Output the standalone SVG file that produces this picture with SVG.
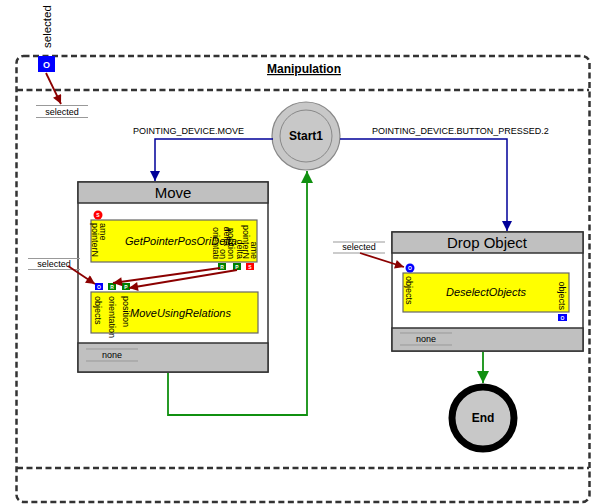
<svg xmlns="http://www.w3.org/2000/svg" width="592" height="504" viewBox="0 0 592 504">
  <defs>
    <style>
      text { font-family: "Liberation Sans", Arial, sans-serif; fill: #000; }
      .dash { fill: none; stroke: #333; stroke-width: 2.5; stroke-dasharray: 6 3.5; }
      .box { fill: #fff; stroke: #333; stroke-width: 1.5; }
      .band { fill: #c0c0c0; stroke: #333; stroke-width: 1.5; }
      .act { fill: #ffff00; stroke: #666; stroke-width: 1.2; }
      .rule { stroke: #999; stroke-width: 1; }
      .small { font-size: 9px; }
      .title { font-size: 15px; }
      .ital { font-size: 11px; font-style: italic; }
      .rot { font-size: 9px; }
      .pt { font-size: 5px; font-weight: bold; fill: #fff; text-anchor: middle; }
      .ptbig { font-size: 9px; font-weight: bold; fill: #fff; text-anchor: middle; }
      .blue { fill: none; stroke: #000099; stroke-width: 1.5; }
      .green { fill: none; stroke: #109010; stroke-width: 1.8; }
      .red { fill: none; stroke: #8b0000; stroke-width: 1.8; }
    </style>
    <marker id="ahBlue" viewBox="0 0 10 10" refX="10" refY="5" markerWidth="13" markerHeight="10" markerUnits="userSpaceOnUse" orient="auto">
      <path d="M0,0 L10,5 L0,10 z" fill="#000099"/>
    </marker>
    <marker id="ahGreen" viewBox="0 0 10 10" refX="10" refY="5" markerWidth="14" markerHeight="12" orient="auto" markerUnits="userSpaceOnUse">
      <path d="M0,0 L10,5 L0,10 z" fill="#109010"/>
    </marker>
    <marker id="ahRed" viewBox="0 0 10 10" refX="10" refY="5" markerWidth="12" markerHeight="9" orient="auto" markerUnits="userSpaceOnUse">
      <path d="M0,0 L10,5 L0,10 z" fill="#8b0000"/>
    </marker>
  </defs>

  <rect width="592" height="504" fill="#fff"/>

  <!-- Manipulation region -->
  <g id="manipulation">
    <rect class="dash" x="16.5" y="56" width="573" height="446" rx="7"/>
    <line class="dash" x1="17" y1="90" x2="589" y2="90"/>
    <line class="dash" x1="17" y1="468" x2="589" y2="468"/>
    <text x="304" y="73" font-size="12" font-weight="bold" text-anchor="middle" text-decoration="underline">Manipulation</text>
    <rect x="38" y="56" width="17" height="16" fill="#0000ff"/>
    <text x="46.5" y="67.5" class="ptbig">O</text>
    <text transform="translate(51,48) rotate(-90)" font-size="11.5">selected</text>
    <line class="rule" x1="36" y1="105.5" x2="88" y2="105.5"/>
    <line class="rule" x1="36" y1="117.5" x2="88" y2="117.5"/>
    <text x="62" y="114.5" class="small" text-anchor="middle">selected</text>
  </g>

  <!-- Start state -->
  <g id="start1">
    <circle cx="306" cy="136" r="34" fill="#c8c8c8" stroke="#888" stroke-width="1.2"/>
    <circle cx="306" cy="136" r="26" fill="#c8c8c8" stroke="#888" stroke-width="1"/>
    <text x="306" y="140" font-size="12" font-weight="bold" text-anchor="middle">Start1</text>
  </g>

  <!-- Move state -->
  <g id="move">
    <rect class="box" x="78" y="182" width="190" height="190"/>
    <rect class="band" x="78" y="182" width="190" height="21"/>
    <rect class="band" x="78" y="343" width="190" height="29"/>
    <text x="173" y="198" class="title" text-anchor="middle">Move</text>
    <line class="rule" x1="86" y1="349" x2="138" y2="349"/>
    <line class="rule" x1="86" y1="361" x2="138" y2="361"/>
    <text x="112" y="358" class="small" text-anchor="middle">none</text>

    <!-- selected input label -->
    <line class="rule" x1="28" y1="258.5" x2="80" y2="258.5"/>
    <line class="rule" x1="28" y1="269.5" x2="80" y2="269.5"/>
    <text x="54" y="267" class="small" text-anchor="middle">selected</text>

    <!-- GetPointerPosOriDelta action -->
    <g id="getPointerPosOriDelta">
      <rect class="act" x="91" y="220" width="166" height="42"/>
      <circle cx="98" cy="215" r="4.5" fill="#ff0000"/>
      <text x="98" y="217" class="pt">S</text>
      <text x="125" y="245" class="ital">GetPointerPosOriDelta</text>
      <text transform="translate(92,223) rotate(90)" class="rot">pointerN</text>
      <text transform="translate(100,223) rotate(90)" class="rot">ame</text>
      <text transform="translate(213,259) rotate(90)" class="rot" text-anchor="end">orientati</text>
      <text transform="translate(220,259) rotate(90)" class="rot" text-anchor="end">on</text>
      <text transform="translate(224,246) rotate(90)" class="rot" text-anchor="end">delta</text>
      <text transform="translate(228,259) rotate(90)" class="rot" text-anchor="end">position</text>
      <text transform="translate(237,259) rotate(90)" class="rot" text-anchor="end">delta</text>
      <text transform="translate(243,259) rotate(90)" class="rot" text-anchor="end">pointerN</text>
      <text transform="translate(251,259) rotate(90)" class="rot" text-anchor="end">ame</text>
      <rect x="218" y="263" width="8" height="7" fill="#008000"/>
      <text x="222" y="268.5" class="pt">R</text>
      <rect x="233" y="263" width="8" height="7" fill="#008000"/>
      <text x="237" y="268.5" class="pt">P</text>
      <rect x="246" y="263" width="8" height="7" fill="#ff0000"/>
      <text x="250" y="268.5" class="pt">S</text>
    </g>

    <!-- MoveUsingRelations action -->
    <g id="moveUsingRelations">
      <rect x="95" y="283" width="8" height="7" fill="#0000ff"/>
      <text x="99" y="288.5" class="pt">O</text>
      <rect x="108" y="283" width="8" height="7" fill="#008000"/>
      <text x="112" y="288.5" class="pt">R</text>
      <rect x="122" y="283" width="8" height="7" fill="#008000"/>
      <text x="126" y="288.5" class="pt">P</text>
      <rect class="act" x="91" y="292" width="167" height="41"/>
      <text x="130" y="317" class="ital">MoveUsingRelations</text>
      <text transform="translate(95,296) rotate(90)" class="rot">objects</text>
      <text transform="translate(109,296) rotate(90)" class="rot">orientation</text>
      <text transform="translate(123,296) rotate(90)" class="rot">position</text>
    </g>
  </g>

  <!-- Drop Object state -->
  <g id="dropObject">
    <rect class="box" x="392" y="232" width="191" height="119"/>
    <rect class="band" x="392" y="232" width="191" height="21"/>
    <rect class="band" x="392" y="328" width="191" height="23"/>
    <text x="487" y="248" class="title" text-anchor="middle">Drop Object</text>
    <line class="rule" x1="400" y1="333" x2="452" y2="333"/>
    <line class="rule" x1="400" y1="345" x2="452" y2="345"/>
    <text x="426" y="342" class="small" text-anchor="middle">none</text>

    <line class="rule" x1="333" y1="242" x2="385" y2="242"/>
    <line class="rule" x1="333" y1="253" x2="385" y2="253"/>
    <text x="359" y="250" class="small" text-anchor="middle">selected</text>

    <g id="deselectObjects">
      <rect class="act" x="403" y="273" width="166" height="39"/>
      <circle cx="410" cy="268" r="4.5" fill="#0000ff"/>
      <text x="410" y="270" class="pt">O</text>
      <text x="486" y="296" class="ital" text-anchor="middle">DeselectObjects</text>
      <text transform="translate(406,276) rotate(90)" class="rot">objects</text>
      <text transform="translate(559,310) rotate(90)" class="rot" text-anchor="end">objects</text>
      <rect x="558" y="314" width="9" height="7" fill="#0000ff"/>
      <text x="562.5" y="319.5" class="pt">O</text>
    </g>
  </g>

  <!-- End state -->
  <g id="end">
    <circle cx="483" cy="418" r="31" fill="#c8c8c8" stroke="#000" stroke-width="7"/>
    <text x="483" y="422" font-size="12" font-weight="bold" text-anchor="middle">End</text>
  </g>

  <!-- connectors, drawn over the nodes -->
  <g id="connectors">
    <path class="red" d="M46,73 L61,104" marker-end="url(#ahRed)"/>
    <path class="blue" d="M273,139 H155 V181" marker-end="url(#ahBlue)"/>
    <path class="blue" d="M340,139 H507 V231" marker-end="url(#ahBlue)"/>
    <path class="green" d="M168,373 V415 H307 V171" marker-end="url(#ahGreen)"/>
    <path class="green" d="M483,352 V383" marker-end="url(#ahGreen)"/>
    <path class="red" d="M68,266 L95,284" marker-end="url(#ahRed)"/>
    <path class="red" d="M220,268 L113,283" marker-end="url(#ahRed)"/>
    <path class="red" d="M237,270 L129,288" marker-end="url(#ahRed)"/>
    <path class="red" d="M360,253 L404,267" marker-end="url(#ahRed)"/>
    <text x="133" y="134" class="small" text-anchor="start">POINTING_DEVICE.MOVE</text>
    <text x="372" y="134" class="small" text-anchor="start">POINTING_DEVICE.BUTTON_PRESSED.2</text>
  </g>
</svg>
